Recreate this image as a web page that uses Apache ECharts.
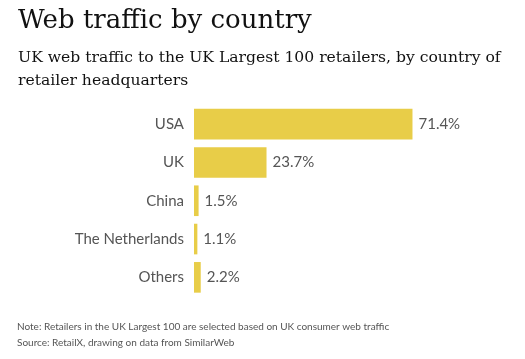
<!DOCTYPE html>
<html><head><meta charset="utf-8">
<script src="https://cdn.jsdelivr.net/npm/echarts@6/dist/echarts.min.js"></script>
<style>html,body{margin:0;padding:0;background:#fff}#c{width:525px;height:359px}</style>
</head><body><div id="c"></div>
<script>
const categories = ['USA', 'UK', 'China', 'The Netherlands', 'Others'];
const shares = [71.4, 23.7, 1.5, 1.1, 2.2];

const chart = echarts.init(document.getElementById('c'), null, {renderer: 'canvas'});
chart.setOption({
  backgroundColor: '#fff',
  animation: false,
  title: [
    {text: 'Web traffic by country', left: 13, top: 3,
     textStyle: {fontFamily: 'DejaVu Serif', fontSize: 26, fontWeight: 'normal', color: '#111'}},
    {text: 'UK web traffic to the UK Largest 100 retailers, by country of\nretailer headquarters', left: 13, top: 41,
     textStyle: {fontFamily: 'DejaVu Serif', fontSize: 15.6, fontWeight: 'normal', color: '#111', lineHeight: 23}},
    {text: 'Note: Retailers in the UK Largest 100 are selected based on UK consumer web traffic\nSource: RetailX, drawing on data from SimilarWeb', left: 12, top: 314,
     textStyle: {fontFamily: 'Lato', fontSize: 10, fontWeight: 'normal', color: '#555', lineHeight: 16}}
  ],
  grid: {left: 194, top: 105, width: 306, height: 191.5, containLabel: false},
  xAxis: {type: 'value', min: 0, max: 100, show: false},
  yAxis: {type: 'category', data: categories, inverse: true,
    axisLine: {show: false}, axisTick: {show: false},
    axisLabel: {margin: 10, color: '#555', fontFamily: 'Lato', fontSize: 15}},
  series: [{type: 'bar', data: shares, barCategoryGap: '20%',
    itemStyle: {color: '#e8cd48'},
    label: {show: true, position: 'right', distance: 6, color: '#555', fontFamily: 'Lato', fontSize: 15,
      formatter: p => p.value.toFixed(1) + '%'}}]
});
</script></body></html>
